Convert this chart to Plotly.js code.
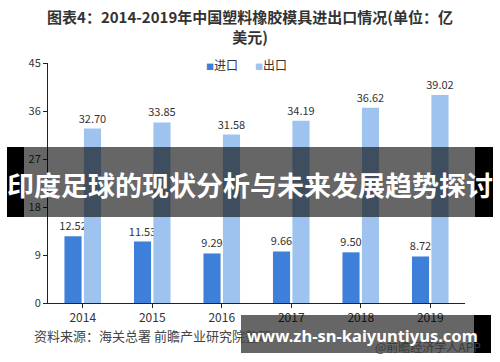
<!DOCTYPE html>
<html>
<head>
<meta charset="utf-8">
<script src="https://cdn.plot.ly/plotly-3.0.1.min.js"></script>
<style>html,body{margin:0;padding:0;background:#fff;}#chart{width:500px;height:362px;}</style>
</head>
<body>
<div id="chart"></div>
<script>
const years = ['2014', '2015', '2016', '2017', '2018', '2019'];
const importValues = [12.52, 11.53, 9.29, 9.66, 9.50, 8.72];
const exportValues = [32.70, 33.85, 31.58, 34.19, 36.62, 39.02];
const seriesNames = ['进口', '出口'];
const seriesColors = ['#3d7fd9', '#9dc3ee'];
const yTicks = [0, 9, 18, 27, 36, 45];

// plot area in pixels: x 48..465, y 63..303
const L = 48, R = 465, T = 63, B = 303;
const xp = px => (px - L) / (R - L);
const yp = py => (B - py) / (B - T);
const FONT = '"Noto Sans CJK SC", "Noto Sans", sans-serif';

const traces = [importValues, exportValues].map((vals, i) => ({
  type: 'bar', name: seriesNames[i], x: years, y: vals,
  marker: {color: seriesColors[i]}, texttemplate: '%{y:.2f}', textposition: 'outside',
  constraintext: 'none', textfont: {size: 11, color: '#333'}, cliponaxis: false,
  showlegend: false
}));

const overlay = 'rgba(0,0,0,0.6)';
function rect(x0, x1, y0, y1, color) {
  return {type: 'rect', xref: 'paper', yref: 'paper', x0: xp(x0), x1: xp(x1),
          y0: yp(y1), y1: yp(y0), fillcolor: color, line: {width: 0}, layer: 'above'};
}

const legendX = [204, 253];
const legendAnn = seriesNames.map((n, i) => ({
  text: '<span style="color:' + seriesColors[i] + ';font-size:8px">■</span>' + n,
  xref: 'paper', yref: 'paper', x: xp(legendX[i]), y: yp(64), xanchor: 'left', yanchor: 'middle',
  showarrow: false, font: {size: 12, color: '#333', family: FONT}
}));

const layout = {
  width: 500, height: 362,
  margin: {l: L, r: 500 - R, t: T, b: 362 - B},
  paper_bgcolor: '#fff', plot_bgcolor: '#fff',
  font: {family: FONT, color: '#333', size: 12},
  title: {text: '图表4：2014-2019年中国塑料橡胶模具进出口情况(单位：亿<br>美元)',
          font: {size: 15, weight: 'bold', color: '#333', family: FONT},
          x: 0.5, xref: 'container', y: 1 - 23 / 362, yref: 'container', yanchor: 'top'},
  barmode: 'group', bargap: 0.44, bargroupgap: 0.12,
  showlegend: false,
  xaxis: {showline: true, linecolor: '#222', linewidth: 1, ticks: 'outside', tickson: 'boundaries',
          ticklen: 4, tickcolor: '#222', showgrid: false, zeroline: false,
          tickfont: {size: 12, color: '#333'}},
  yaxis: {range: [0, 45], tickvals: yTicks, showline: true, linecolor: '#222', linewidth: 1,
          ticks: 'outside', ticklen: 4, tickcolor: '#222', showgrid: false, zeroline: false,
          tickfont: {size: 11, color: '#333'}},
  shapes: [
    rect(7, 24, 147, 217, '#000'),
    rect(24, 475, 147, 217, overlay),
    rect(475, 493, 147, 217, '#000'),
    rect(241, 474, 315, 353, overlay),
    rect(474, 491, 315, 353, '#000')
  ],
  annotations: legendAnn.concat([
    {text: '资料来源：海关总署 前瞻产业研究院整理', xref: 'paper', yref: 'paper',
     x: xp(32), y: yp(335), xanchor: 'left', yanchor: 'middle', showarrow: false,
     font: {size: 13, color: '#444', family: FONT}},
    {text: '@前瞻经济学人APP', xref: 'paper', yref: 'paper',
     x: xp(373), y: yp(346), xanchor: 'left', yanchor: 'middle', showarrow: false,
     font: {size: 12, color: '#3a3a3a', family: FONT}},
    {text: '印度足球的现状分析与未来发展趋势探讨', xref: 'paper', yref: 'paper',
     x: xp(250), y: yp(184), xanchor: 'center', yanchor: 'middle', showarrow: false,
     font: {size: 27, color: '#fff', weight: 'bold', family: FONT}},
    {text: 'www.zh-sn-kaiyuntiyus.com', xref: 'paper', yref: 'paper',
     x: xp(362), y: yp(335), xanchor: 'center', yanchor: 'middle', showarrow: false,
     font: {size: 16.5, color: '#fff', weight: 'bold', family: '"Noto Sans", "Open Sans", sans-serif'}}
  ])
};

Plotly.newPlot('chart', traces, layout, {staticPlot: true, displayModeBar: false});
</script>
</body>
</html>
